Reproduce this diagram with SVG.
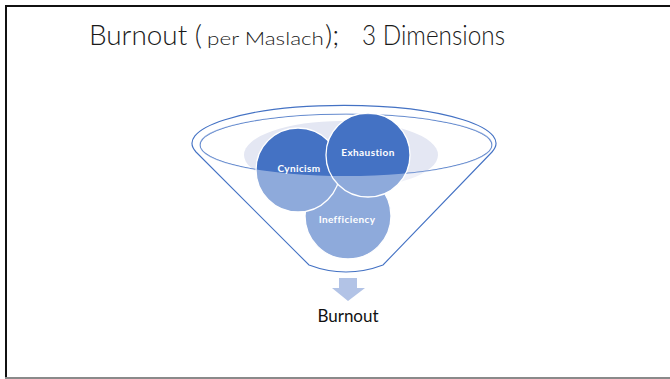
<svg xmlns="http://www.w3.org/2000/svg" width="670" height="379" viewBox="0 0 670 379">
  <style>
    .title { font-family: Lato, "Open Sans", "Liberation Sans", sans-serif; font-weight: 300; fill: #1a1a1a; }
    .rim { fill: none; stroke: #4472c4; stroke-width: 1.1; }
    .ball { fill: #4472c4; stroke: #ffffff; stroke-width: 1.3; }
    .ball-label { font-family: Lato, "Open Sans", "Liberation Sans", sans-serif; font-size: 10px; font-weight: bold; fill: #ffffff; text-anchor: middle; letter-spacing: 0.4px; }
    .out-label { font-family: Lato, "Open Sans", "Liberation Sans", sans-serif; font-size: 17px; fill: #111111; text-anchor: middle; }
  </style>

  <!-- slide frame -->
  <rect x="0" y="0" width="670" height="379" fill="#ffffff"/>
  <line x1="5" y1="6" x2="670" y2="6" stroke="#111111" stroke-width="2"/>
  <line x1="6" y1="5" x2="6" y2="379" stroke="#111111" stroke-width="2"/>
  <line x1="5" y1="378" x2="670" y2="378" stroke="#8a8a8a" stroke-width="2"/>

  <!-- title -->
  <text class="title" y="45" font-size="28"><tspan x="89" textLength="113" lengthAdjust="spacingAndGlyphs">Burnout (</tspan><tspan x="207" font-size="17" textLength="117" lengthAdjust="spacingAndGlyphs">per Maslach</tspan><tspan x="325">);</tspan><tspan x="362" textLength="143" lengthAdjust="spacingAndGlyphs">3 Dimensions</tspan></text>

  <!-- funnel: back parts -->
  <g id="funnel-back">
    <ellipse cx="341" cy="155" rx="97" ry="34" fill="#e4e7f3"/>
    <ellipse class="rim" cx="346" cy="145" rx="146" ry="31"/>
  </g>

  <!-- dimension bubbles -->
  <g id="inefficiency">
    <circle class="ball" cx="348" cy="216" r="43"/>
  </g>
  <g id="cynicism">
    <circle class="ball" cx="298" cy="170" r="42"/>
  </g>
  <g id="exhaustion">
    <circle class="ball" cx="368" cy="155" r="42"/>
  </g>

  <!-- funnel: translucent front wall and outline -->
  <g id="funnel-front">
    <path d="M196,152 A152,38 0 1 1 492,152 L383,265 Q346,279 309,265 Z M200,145 A146,31 0 1 0 492,145 A146,31 0 1 0 200,145 Z" fill="#ffffff" fill-opacity="0.4" fill-rule="evenodd"/>
    <path class="rim" d="M196,152 A152,38 0 1 1 492,152 L383,265 Q346,279 309,265 Z"/>
  </g>

  <!-- bubble labels -->
  <text class="ball-label" x="299" y="172">Cynicism</text>
  <text class="ball-label" x="368" y="156">Exhaustion</text>
  <text class="ball-label" x="347" y="223">Inefficiency</text>

  <!-- output arrow and result -->
  <g id="connectors">
    <path d="M339,278 L357,278 L357,288 L365,288 L348,301 L332,288 L339,288 Z" fill="#b2c3e6"/>
  </g>
  <g id="burnout">
    <text class="out-label" x="348" y="322">Burnout</text>
  </g>
</svg>
